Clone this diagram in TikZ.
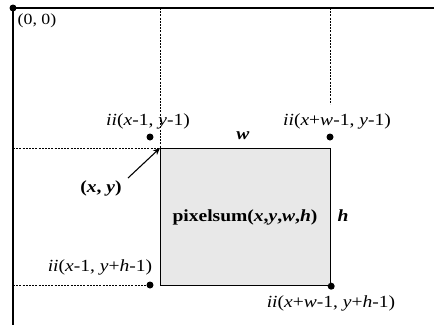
\documentclass[tikz,border=0pt]{standalone}
\usepackage{fontspec}
\setmainfont[FakeStretch=1.15]{Liberation Serif}
\usetikzlibrary{arrows.meta}
\definecolor{boxgray}{HTML}{E8E8E8}
\tikzset{
  axis/.style={line width=1.4pt},
  guide/.style={line width=0.6pt, dash pattern=on 2pt off 1.2pt},
  dot/.style={circle, fill=black, inner sep=0pt, minimum size=7pt},
  lbl/.style={inner sep=0pt, font=\fontsize{17}{19}\selectfont},
}
\begin{document}
\begin{tikzpicture}[x=1pt,y=-1pt]
\useasboundingbox (0,0) rectangle (434,325);
% region
\node[draw, line width=1.2pt, fill=boxgray, minimum width=170pt, minimum height=137pt, inner sep=0pt, anchor=north west] (box) at (160,148) {};
% guides
\coordinate (t1) at (160,8);
\coordinate (t2) at (330,8);
\coordinate (g2) at (330,104);
\coordinate (l1) at (13,148);
\coordinate (l2) at (13,285);
\coordinate (g3) at (150,285);
\draw[guide] (t1) -- (box.north west);
\draw[guide] (t2) -- (g2);
\draw[guide] (l1) -- (box.north west);
\draw[guide] (l2) -- (g3);
% axes
\coordinate (o) at (13,8);
\coordinate (xe) at (434,8);
\coordinate (ye) at (13,325);
\draw[axis] (xe) -- (o) -- (ye);
\node[dot] (od) at (o) {};
% dots
\node[dot] (d1) at (150,137) {};
\node[dot] (d2) at (330,137) {};
\node[dot] (d3) at (150,285) {};
\node[dot] (d4) at (box.south east) {};
% labels
\node[lbl, font=\fontsize{15.5}{18}\selectfont] (l00) at (37,21) {(0, 0)};
\node[lbl] (la) at (148,121) {\textit{ii}(\textit{x}-1, \textit{y}-1)};
\node[lbl] (lb) at (337,121) {\textit{ii}(\textit{x}+\textit{w}-1, \textit{y}-1)};
\node[lbl] (lc) at (100,267) {\textit{ii}(\textit{x}-1, \textit{y}+\textit{h}-1)};
\node[lbl] (ld) at (331,303) {\textit{ii}(\textit{x}+\textit{w}-1, \textit{y}+\textit{h}-1)};
\node[lbl] (lw) at (243,136) {\textbf{\textit{w}}};
\node[lbl] (lh) at (343,216) {\textbf{\textit{h}}};
\node[lbl] (lxy) at (101,188) {\textbf{(\textit{x}, \textit{y})}};
\node[lbl] (ls) at (245,217) {\textbf{pixelsum(\textit{x},\textit{y},\textit{w},\textit{h})}};
\coordinate (as) at (128,178);
\draw[line width=1.1pt, -{Stealth[length=7pt,width=6pt]}] (as) -- (box.north west);
\end{tikzpicture}
\end{document}
